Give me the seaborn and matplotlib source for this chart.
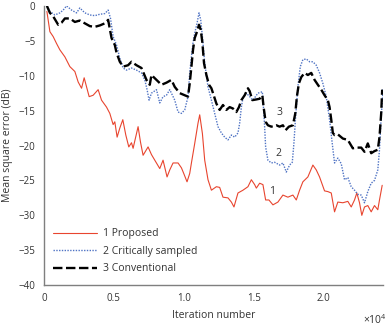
import numpy as np
import pandas as pd
import seaborn as sns
import matplotlib
matplotlib.use('Agg')
import matplotlib.pyplot as plt

# Values (iteration number, mean square error in dB)
proposed_x = [214, 429, 664, 907, 1143, 1500, 1857, 2214, 2450, 2693, 2879, 3050, 3236, 3521, 3879,
              4121, 4479, 4714, 4950, 5071, 5236, 5429, 5643, 5857, 6071, 6264, 6379, 6736, 6907,
              7093, 7450, 7693, 7929, 8286, 8521, 8807, 9000, 9236, 9593, 9836, 10000, 10236, 10429,
              10550, 10786, 11021, 11143, 11336, 11500, 11736, 11979, 12336, 12571, 12807, 13164,
              13407, 13593, 13879, 14236, 14593, 14836, 15071, 15193, 15429, 15664, 15857, 16093,
              16379, 16736, 17093, 17450, 17807, 18050, 18286, 18521, 18879, 19236, 19479, 19714,
              20071, 20307, 20550, 20786, 21021, 21379, 21736, 21979, 22214, 22379, 22571, 22736,
              22929, 23164, 23407, 23643, 23879, 24000, 24193]
proposed_y = [-0.8, -3.7, -4.4, -5.4, -6.3, -7.3, -8.7, -9.4, -10.9, -11.8, -10.3, -11.6, -13.0, -12.8, -12.0,
              -13.5, -14.5, -15.4, -17.0, -16.6, -18.8, -17.5, -16.3, -18.5, -20.2, -19.6, -20.4, -17.3, -19.5,
              -21.4, -20.2, -21.3, -22.1, -23.3, -22.1, -24.5, -23.5, -22.5, -22.5, -23.2, -24.0, -25.2, -24.0,
              -22.5, -19.7, -16.8, -15.6, -18.3, -22.1, -24.9, -26.4, -25.9, -26.0, -27.4, -27.5,
              -28.1, -28.8, -26.8, -26.4, -25.9, -24.9, -25.6, -26.1, -25.4, -25.6, -27.8, -27.8,
              -28.5, -28.1, -27.1, -27.4, -27.1, -27.8, -26.4, -25.2, -24.5, -22.8, -23.5, -24.5,
              -26.5, -26.6, -26.8, -29.5, -28.1, -28.2, -28.0, -28.8, -27.8, -26.8, -28.2, -30.0,
              -28.8, -28.6, -29.5, -28.6, -29.2, -27.8, -25.7]

critical_x = [214, 429, 786, 1143, 1379, 1621, 1979, 2336, 2571, 2929, 3286, 3643, 4000, 4357, 4593,
              4764, 4950, 5193, 5429, 5664, 5907, 6264, 6621, 6979, 7214, 7379, 7521, 7693, 8050,
              8286, 8521, 8764, 9000, 9357, 9593, 9836, 10071, 10307, 10429, 10550, 10664, 10786,
              10950, 11093, 11214, 11336, 11500, 11736, 11979, 12214, 12450, 12693, 12929, 13164,
              13407, 13643, 13879, 14000, 14121, 14236, 14479, 14714, 14950, 15307, 15621, 15714,
              15786, 15857, 16021, 16264, 16500, 16857, 17093, 17336, 17571, 17764, 17879, 18000,
              18164, 18336, 18521, 18764, 19000, 19236, 19479, 19714, 19950, 20193, 20429, 20621,
              20786, 21021, 21264, 21500, 21736, 21979, 22214, 22450, 22693, 22929, 23164, 23407,
              23643, 23879, 24000, 24121, 24264]
critical_y = [0.0, -0.8, -1.3, -1.0, -0.6, 0.0, -0.6, -1.0, -0.3, -1.0, -1.3, -1.4, -1.2, -1.1, -0.6,
              -1.8, -4.4, -5.6, -7.5, -8.9, -9.2, -8.9, -9.2, -9.6, -10.6, -12.0, -13.5, -12.5, -12.0,
              -13.9, -13.0, -12.8, -12.0, -13.5, -15.2, -15.4, -14.9, -13.0, -9.6, -7.3, -5.3, -3.9,
              -2.5, -1.0, -2.0, -4.4, -8.2, -11.6, -13.5, -15.4, -17.3, -18.2, -18.8, -19.2,
              -18.5, -18.8, -18.2, -16.8, -14.5, -13.2, -12.5, -13.0, -13.5, -12.5, -12.3, -14.9,
              -17.3, -20.2, -22.1, -22.5, -22.4, -22.8, -22.5, -23.8, -22.8, -22.4, -19.7, -15.9,
              -11.6, -8.7, -7.7, -7.6, -8.0, -8.0, -8.5, -9.6, -11.1, -13.0, -16.3, -19.7,
              -22.5, -21.8, -22.6, -24.9, -24.6, -25.9, -26.4, -27.0, -27.1, -28.2, -26.6, -25.4,
              -25.0, -23.5, -20.6, -15.9, -11.8]

conventional_x = [214, 429, 664, 1021, 1264, 1500, 1857, 2214, 2571, 2929, 3286, 3643, 4000, 4357, 4593,
                  4836, 5071, 5193, 5429, 5664, 6021, 6264, 6621, 6979, 7336, 7571, 7693, 8050, 8407,
                  8764, 9121, 9357, 9714, 10071, 10307, 10429, 10550, 10664, 10786, 10950, 11093,
                  11214, 11336, 11450, 11621, 11807, 11979, 12143, 12336, 12571, 12807, 13050, 13286,
                  13521, 13764, 13950, 14121, 14357, 14593, 14714, 14907, 15193, 15429, 15621, 15714,
                  15857, 16021, 16264, 16621, 16857, 17093, 17286, 17521, 17807, 17979, 18093, 18236,
                  18407, 18643, 18879, 19121, 19357, 19593, 19836, 20071, 20307, 20429, 20550, 20664,
                  20786, 21021, 21379, 21736, 22093, 22336, 22693, 22929, 23164, 23407, 23643, 23879,
                  24000, 24121, 24193]
conventional_y = [0.0, -1.0, -1.5, -2.7, -2.4, -1.8, -1.8, -2.3, -2.1, -2.5, -2.9, -3.0, -2.8, -2.5, -2.0,
                  -4.6, -5.6, -6.7, -8.0, -8.7, -8.5, -8.0, -8.5, -8.9, -10.6, -11.3, -9.9, -10.6, -11.3,
                  -11.0, -10.6, -11.6, -12.5, -12.8, -13.0, -11.1, -8.7, -6.3, -4.6, -3.7, -2.7,
                  -3.4, -5.3, -8.2, -9.9, -11.3, -11.8, -12.8, -14.0, -14.9, -14.2, -14.9, -14.5,
                  -14.7, -15.2, -14.5, -13.5, -12.8, -11.8, -12.2, -13.5, -13.4, -13.3, -12.8, -14.5,
                  -16.6, -17.1, -17.3, -17.1, -17.3, -17.1, -17.8, -17.3, -17.1, -15.4, -13.0, -11.1,
                  -10.2, -9.6, -9.9, -9.6, -10.6, -11.3, -12.0, -12.8, -13.5, -14.5, -16.3, -18.2,
                  -18.5, -18.4, -19.0, -19.2, -20.4, -20.3, -20.3, -20.9, -19.7, -21.1, -20.8, -20.6,
                  -18.8, -15.4, -12.0]

series_labels = ['1 Proposed', '2 Critically sampled', '3 Conventional']
curve_tags = ['1', '2', '3']
tag_x = [16330, 16790, 16860]
tag_y = [-26.6, -21.1, -15.3]

x_ticks = [0, 5000, 10000, 15000, 20000]
x_tick_labels = ['0', '0.5', '1.0', '1.5', '2.0']
y_ticks = [0, -5, -10, -15, -20, -25, -30, -35, -40]

sns.set_theme(style='white')
plt.rcParams['font.family'] = ['Open Sans', 'DejaVu Sans']
plt.rcParams['mathtext.default'] = 'regular'
text_col = '#333333'
spine_col = '#7f7f7f'

fig = plt.figure(figsize=(3.92, 3.27), dpi=100)
ax = fig.add_axes([0.112, 0.128, 0.865, 0.854])

sns.lineplot(x=proposed_x, y=proposed_y, ax=ax, color='#e8452f', linewidth=0.8,
             estimator=None, sort=False, label=series_labels[0])
sns.lineplot(x=critical_x, y=critical_y, ax=ax, color='#4f73c4', linewidth=1.0,
             linestyle=(0, (1, 1)), estimator=None, sort=False, label=series_labels[1])
sns.lineplot(x=conventional_x, y=conventional_y, ax=ax, color='black', linewidth=1.7,
             linestyle=(0, (4, 1.5)), estimator=None, sort=False, label=series_labels[2])

for t, tx, ty in zip(curve_tags, tag_x, tag_y):
    ax.text(tx, ty, t, ha='center', va='center', fontsize=7.5, color=text_col)

ax.set_xlim(0, 24250)
ax.set_ylim(-40, 0)
ax.set_xticks(x_ticks)
ax.set_xticklabels(x_tick_labels)
ax.set_yticks(y_ticks)
ax.tick_params(direction='in', length=3, width=0.8, color=spine_col,
               labelsize=7, labelcolor=text_col, pad=6)
sns.despine(ax=ax)
for s in ['left', 'bottom']:
    ax.spines[s].set_color(spine_col)
    ax.spines[s].set_linewidth(1.0)

ax.set_xlabel('Iteration number', fontsize=7.5, color=text_col, labelpad=4)
ax.set_ylabel('Mean square error (dB)', fontsize=7.5, color=text_col, labelpad=4)
ax.text(0.94, -0.125, r'×10$^{4}$', transform=ax.transAxes, fontsize=7.5,
        color=text_col, ha='left', va='center')

ax.legend(loc='lower left', bbox_to_anchor=(0.0, 0.005), frameon=False, fontsize=7.5,
          handlelength=4.2, labelspacing=0.62, handletextpad=0.6, labelcolor=text_col)

fig.savefig('out.png', dpi=100)
